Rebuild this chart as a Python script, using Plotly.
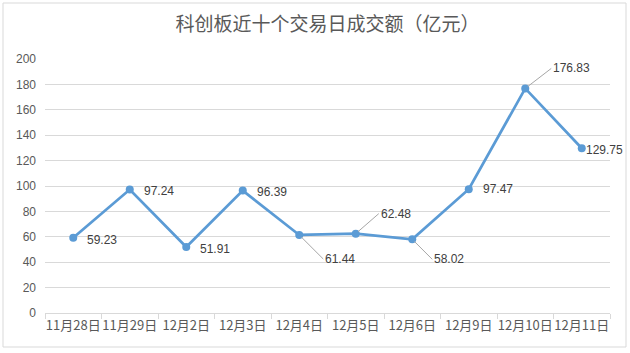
import plotly.graph_objects as go

categories = ["11月28日", "11月29日", "12月2日", "12月3日", "12月4日",
              "12月5日", "12月6日", "12月9日", "12月10日", "12月11日"]
values = [59.23, 97.24, 51.91, 96.39, 61.44, 62.48, 58.02, 97.47, 176.83, 129.75]
y_ticks = [0, 20, 40, 60, 80, 100, 120, 140, 160, 180, 200]
title_text = "科创板近十个交易日成交额（亿元）"

font_family = "Liberation Sans, Noto Sans CJK SC, sans-serif"
line_color = "#5B9BD5"

fig = go.Figure()
fig.add_trace(go.Scatter(
    x=categories, y=values, mode="lines+markers",
    line=dict(color=line_color, width=2.75),
    marker=dict(color=line_color, size=8),
    hoverinfo="skip", showlegend=False,
))

placements = [
    dict(xanchor="left", yanchor="middle", xshift=12, yshift=-2),
    dict(xanchor="left", yanchor="middle", xshift=12, yshift=-1),
    dict(xanchor="left", yanchor="middle", xshift=12, yshift=-2),
    dict(xanchor="left", yanchor="middle", xshift=12, yshift=-1),
    dict(arrow=True, ax=24, ay=24),
    dict(arrow=True, ax=23, ay=-20),
    dict(arrow=True, ax=20, ay=20),
    dict(xanchor="left", yanchor="middle", xshift=12, yshift=0),
    dict(arrow=True, ax=26, ay=-20),
    dict(xanchor="left", yanchor="middle", xshift=2, yshift=-2),
]

for cat, val, p in zip(categories, values, placements):
    label = f"{val:.2f}"
    if p.get("arrow"):
        fig.add_annotation(
            x=cat, y=val, text=label, showarrow=True,
            ax=p["ax"], ay=p["ay"], xanchor="left", yanchor="middle",
            arrowhead=0, arrowwidth=1, arrowcolor="#a6a6a6", standoff=3,
            font=dict(family=font_family, size=12, color="#404040"),
        )
    else:
        fig.add_annotation(
            x=cat, y=val, text=label, showarrow=False,
            xanchor=p["xanchor"], yanchor=p["yanchor"],
            xshift=p["xshift"], yshift=p["yshift"],
            font=dict(family=font_family, size=12, color="#404040"),
        )

pw, ph = 565, 254
fig.add_shape(type="rect", xref="paper", yref="paper",
              x0=(3 - 45) / pw, x1=(626 - 45) / pw,
              y0=(313 - 347) / ph, y1=(313 - 3) / ph,
              line=dict(color="#d9d9d9", width=1), layer="below")

fig.update_layout(
    width=630, height=353,
    margin=dict(l=45, r=20, t=59, b=40),
    paper_bgcolor="white", plot_bgcolor="white",
    title=dict(text=title_text, x=0.5, xref="paper", y=0.93, yanchor="middle",
               font=dict(family="Noto Sans CJK SC, sans-serif", size=19, color="#595959")),
    font=dict(family=font_family, size=12, color="#595959"),
)
fig.update_xaxes(
    type="category", range=[-0.5, len(categories) - 0.5],
    showgrid=False, showline=True, linecolor="#d9d9d9", linewidth=1,
    ticks="outside", tickson="boundaries", ticklen=5, tickcolor="#d9d9d9",
    tickangle=0, automargin=False,
    tickfont=dict(family="Noto Sans CJK SC, sans-serif", size=13, color="#595959"),
    fixedrange=True,
)
fig.update_yaxes(
    range=[0, 200], tickvals=y_ticks, showgrid=True, gridcolor="#d9d9d9", gridwidth=1,
    zeroline=False, showline=False, ticks="", ticklabelstandoff=8, automargin=False,
    tickfont=dict(family=font_family, size=12, color="#595959"),
    fixedrange=True,
)

fig.write_html("out.html")
